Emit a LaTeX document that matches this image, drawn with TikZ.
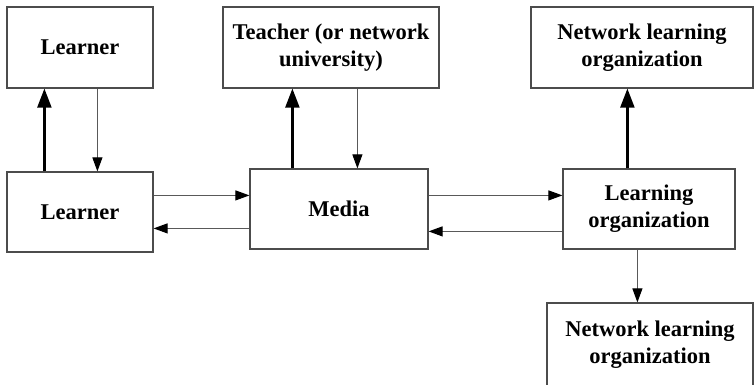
\documentclass[tikz,border=0pt]{standalone}
\usepackage{fontspec}
\setmainfont{Liberation Serif}
\usetikzlibrary{arrows.meta}
\tikzset{
	box/.style={draw=black!70,line width=1.2pt,rectangle,align=center,inner sep=0pt,
		font=\fontsize{22.5}{27}\selectfont\bfseries},
	thin/.style={draw=black!65,line width=1pt,-{Triangle[length=14pt,width=10pt,color=black]}},
	bold/.style={draw=black,line width=2.2pt,-{Triangle[length=19pt,width=14pt]}}
}
\begin{document}
\begin{tikzpicture}[x=1pt,y=-1pt]
		\useasboundingbox(0,0)rectangle(754,384);
		\clip(0,0)rectangle(754,384);
		\node[box,minimum width=146,minimum height=81](l1)at(80,47.5){Learner};
		\node[box,minimum width=216,minimum height=81](teacher)at(331,47.5){Teacher (or network\\university)};
		\node[box,minimum width=222,minimum height=81](nlo1)at(642,47.5){Network learning\\organization};
		\node[box,minimum width=146,minimum height=80](l2)at(80,212){Learner};
		\node[box,minimum width=178,minimum height=80](media)at(339,209){Media};
		\node[box,minimum width=172,minimum height=80](lo)at(649,209){Learning\\organization};
		\node[box,minimum width=206,minimum height=84](nlo2)at(650,345){Network learning\\organization};
		\coordinate(p1)at([xshift=38]l2.north west);
		\coordinate(p2)at([xshift=91]l1.south west);
		\coordinate(p3)at([xshift=43]media.north west);
		\coordinate(p4)at([xshift=135]teacher.south west);
		\coordinate(p5)at([xshift=65]lo.north west);
		\coordinate(p6)at([xshift=75]lo.south west);
		\coordinate(q1)at([yshift=-24]l2.north east);
		\coordinate(q2)at([yshift=-60]media.north west);
		\coordinate(q3)at([yshift=-27]media.north east);
		\coordinate(q4)at([yshift=-63]lo.north west);
		\draw[bold](p1)--(p1|-l1.south);
		\draw[thin](p2)--(p2|-l2.north);
		\draw[bold](p3)--(p3|-teacher.south);
		\draw[thin](p4)--(p4|-media.north);
		\draw[bold](p5)--(p5|-nlo1.south);
		\draw[thin](p6)--(p6|-nlo2.north);
		\draw[thin](q1)--(q1-|media.west);
		\draw[thin](q2)--(q2-|l2.east);
		\draw[thin](q3)--(q3-|lo.west);
		\draw[thin](q4)--(q4-|media.east);
	\end{tikzpicture}
\end{document}
